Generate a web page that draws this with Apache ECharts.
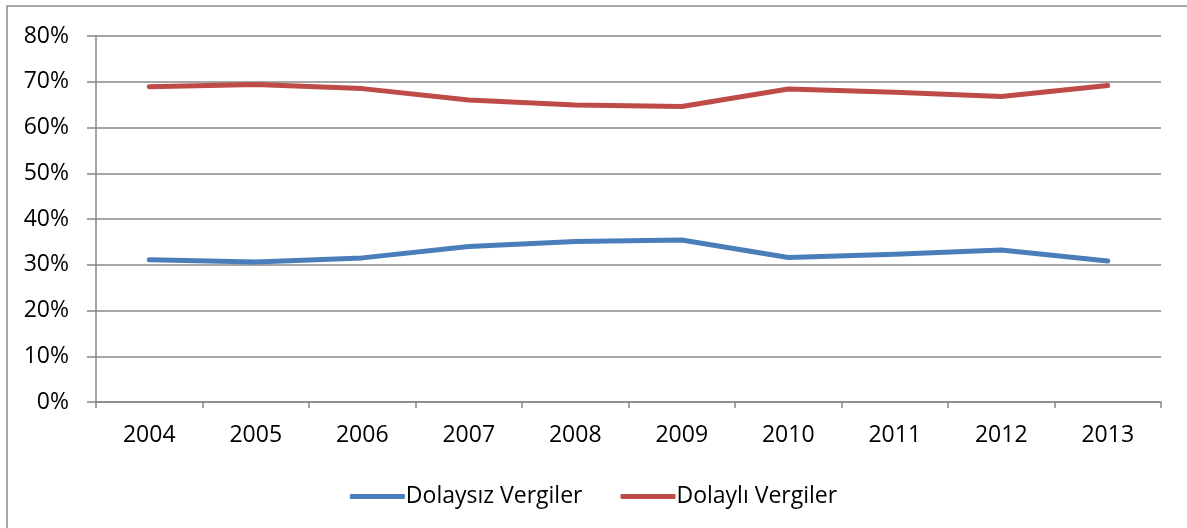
<!DOCTYPE html>
<html>
<head>
<meta charset="utf-8">
<script src="https://cdn.jsdelivr.net/npm/echarts@6/dist/echarts.min.js"></script>
<style>
  html, body { margin: 0; padding: 0; background: #fff; }
  #chart { width: 1187px; height: 528px; }
</style>
</head>
<body>
<div id="chart"></div>
<script>
// data (percent)
const years = ['2004', '2005', '2006', '2007', '2008', '2009', '2010', '2011', '2012', '2013']
const dolaysiz = [31.1, 30.6, 31.5, 34.0, 35.1, 35.4, 31.6, 32.3, 33.2, 30.8]
const dolayli = [68.9, 69.4, 68.5, 66.0, 64.9, 64.6, 68.4, 67.7, 66.8, 69.2]
const yTicks = [0, 10, 20, 30, 40, 50, 60, 70, 80]

const axisGray = '#878787'
const font = '"Open Sans", Lato, sans-serif'

const chart = echarts.init(document.getElementById('chart'))

const option = {
  animation: false,
  backgroundColor: '#fff',
  textStyle: { fontFamily: font },
  grid: {
    left: 96,
    right: 26,
    top: 36,
    bottom: 126
  },
  graphic: [
    {
      // outer chart frame (runs off the right and bottom edges)
      type: 'rect',
      shape: { x: 7, y: 6, width: 1200, height: 540 },
      style: { fill: 'none', stroke: '#8a8a8a', lineWidth: 1.5 },
      silent: true
    }
  ],
  legend: {
    data: ['Dolaysız Vergiler', 'Dolaylı Vergiler'],
    left: 'center',
    top: 480,
    icon: 'roundRect',
    itemWidth: 55,
    itemHeight: 5,
    itemGap: 38,
    textStyle: { fontSize: 23, color: '#000', fontFamily: font, padding: [0, 0, 0, -4] }
  },
  xAxis: {
    type: 'category',
    data: years,
    boundaryGap: true,
    axisLine: { lineStyle: { color: axisGray, width: 1.5 } },
    axisTick: { show: true, length: 6, lineStyle: { color: axisGray, width: 1.5 } },
    axisLabel: { fontSize: 23, color: '#000', margin: 22, fontFamily: font },
    splitLine: { show: false }
  },
  yAxis: {
    type: 'value',
    min: yTicks[0],
    max: yTicks[yTicks.length - 1],
    interval: 10,
    axisLine: { show: true, lineStyle: { color: axisGray, width: 1.5 } },
    axisTick: { show: true, length: 9, lineStyle: { color: axisGray, width: 1.5 } },
    axisLabel: {
      fontSize: 23,
      color: '#000',
      margin: 27,
      fontFamily: font,
      formatter: '{value}%'
    },
    splitLine: { lineStyle: { color: axisGray, width: 1.5 } }
  },
  series: [
    {
      name: 'Dolaysız Vergiler',
      type: 'line',
      data: dolaysiz,
      symbol: 'none',
      lineStyle: { color: '#4A7EBB', width: 5, cap: 'round', join: 'round' },
      itemStyle: { color: '#4A7EBB' }
    },
    {
      name: 'Dolaylı Vergiler',
      type: 'line',
      data: dolayli,
      symbol: 'none',
      lineStyle: { color: '#BE4B48', width: 5, cap: 'round', join: 'round' },
      itemStyle: { color: '#BE4B48' }
    }
  ]
}

chart.setOption(option)
</script>
</body>
</html>
